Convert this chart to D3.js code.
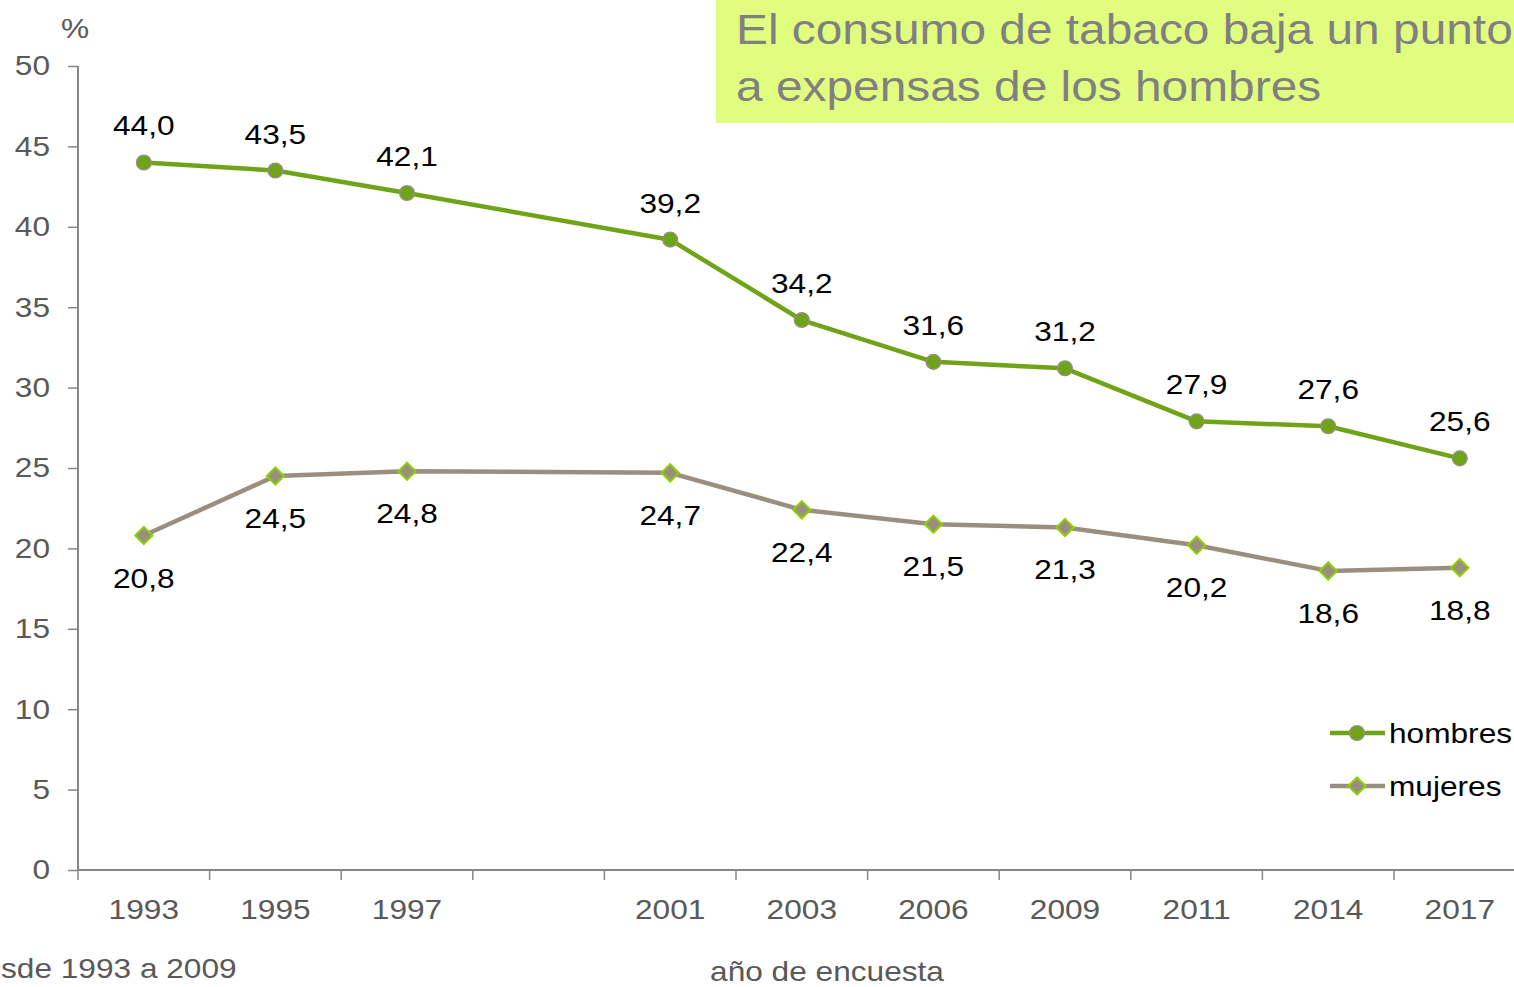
<!DOCTYPE html>
<html><head><meta charset="utf-8">
<script src="https://cdn.jsdelivr.net/npm/d3@7"></script>
<style>
html,body{margin:0;padding:0;background:#fff;overflow:hidden;}
svg{display:block;font-family:"Liberation Sans",Arial,sans-serif;}
</style></head>
<body>
<svg id="c" width="1514" height="987"></svg>
<script>
const categories = ["1993","1995","1997","","2001","2003","2006","2009","2011","2014","2017"];
const hombres = [44.0,43.5,42.1,null,39.2,34.2,31.6,31.2,27.9,27.6,25.6];
const mujeres = [20.8,24.5,24.8,null,24.7,22.4,21.5,21.3,20.2,18.6,18.8];
const yTicks = [0,5,10,15,20,25,30,35,40,45,50];
const titleLines = ["El consumo de tabaco baja un punto","a expensas de los hombres"];

const SX = 1.13;
const svg = d3.select("#c");
const x = d3.scaleBand().domain(categories.map((d,i)=>i)).range([78, 78+11*131.6]).paddingInner(0).paddingOuter(0);
const y = d3.scaleLinear().domain([0,50]).range([870,66]);
const cx = i => x(i) + x.bandwidth()/2;
const fmt = v => v.toFixed(1).replace(".", ",");
// place a text at (px,py) with horizontal stretch like the reference
const place = (sel, fx, fy, sx=SX) => sel.attr("x",0).attr("y",0)
  .attr("transform",(d,i)=>`translate(${fx(d,i)},${fy(d,i)}) scale(${sx},1)`);

// title box
svg.append("rect").attr("x",716).attr("y",0).attr("width",820).attr("height",123).attr("fill","#e1fd80");
svg.append("g").selectAll("text").data(titleLines).join("text")
  .call(place, ()=>736, (d,i)=>44+i*57, 1.113)
  .attr("font-size",43).attr("fill","#808080").text(d=>d);

// y axis
const yAxis = svg.append("g").attr("transform","translate(78,0)")
  .call(d3.axisLeft(y).tickValues(yTicks).tickSize(10).tickPadding(18));
yAxis.select(".domain").attr("stroke","#868686").attr("stroke-width",2).attr("d","M0,66V870");
yAxis.selectAll(".tick line").attr("stroke","#868686").attr("stroke-width",1.5);
yAxis.selectAll(".tick text").attr("font-size",28).attr("fill","#595959")
  .attr("font-family","Liberation Sans, Arial, sans-serif")
  .attr("x",null).attr("transform",`translate(-28,0) scale(${SX},1)`);

// x axis
const xAxis = svg.append("g").attr("transform","translate(0,870)");
xAxis.append("line").attr("x1",78).attr("x2",1530).attr("y1",0).attr("y2",0).attr("stroke","#868686").attr("stroke-width",2);
xAxis.selectAll("line.t").data(d3.range(0,12)).join("line").attr("class","t")
  .attr("x1",i=>78+i*x.step()).attr("x2",i=>78+i*x.step()).attr("y1",0).attr("y2",10)
  .attr("stroke","#868686").attr("stroke-width",1.5);
xAxis.selectAll("text").data(categories).join("text")
  .call(place,(d,i)=>cx(i),()=>49)
  .attr("text-anchor","middle").attr("font-size",28).attr("fill","#595959").text(d=>d);

// unit label
svg.append("text").datum("%").call(place,()=>75,()=>38).attr("text-anchor","middle").attr("font-size",28).attr("fill","#595959").text("%");
// axis title
svg.append("text").datum(0).call(place,()=>827,()=>981).attr("text-anchor","middle").attr("font-size",28).attr("fill","#595959").text("año de encuesta");
svg.append("text").datum(0).call(place,()=>1,()=>978).attr("font-size",28).attr("fill","#595959").text("sde 1993 a 2009");

// lines
const line = d3.line().x(d=>cx(d.i)).y(d=>y(d.v));
const hData = hombres.map((v,i)=>({v,i})).filter(d=>d.v!=null);
const mData = mujeres.map((v,i)=>({v,i})).filter(d=>d.v!=null);
svg.append("path").datum(mData).attr("d",line).attr("fill","none").attr("stroke","#9a8f7f").attr("stroke-width",4.5).attr("stroke-linejoin","round");
svg.append("path").datum(hData).attr("d",line).attr("fill","none").attr("stroke","#6fa318").attr("stroke-width",4.5).attr("stroke-linejoin","round");

const diamondPath = d3.symbol().type(d3.symbolSquare).size(150);
svg.append("g").selectAll("path").data(mData).join("path")
  .attr("d", diamondPath)
  .attr("transform",d=>`translate(${cx(d.i)},${y(d.v)}) rotate(45)`)
  .attr("fill","#9a8f7f").attr("stroke","#8fd100").attr("stroke-width",2);
svg.append("g").selectAll("circle").data(hData).join("circle")
  .attr("cx",d=>cx(d.i)).attr("cy",d=>y(d.v)).attr("r",7.3)
  .attr("fill","#6fa318").attr("stroke","#8f9279").attr("stroke-width",1.5);

// labels
svg.append("g").selectAll("text").data(hData).join("text")
  .call(place,d=>cx(d.i),d=>y(d.v)-27)
  .attr("text-anchor","middle").attr("font-size",28).attr("fill","#000").text(d=>fmt(d.v));
svg.append("g").selectAll("text").data(mData).join("text")
  .call(place,d=>cx(d.i),d=>y(d.v)+52)
  .attr("text-anchor","middle").attr("font-size",28).attr("fill","#000").text(d=>fmt(d.v));

// legend
const legend = [{name:"hombres",type:"c",color:"#6fa318"},{name:"mujeres",type:"d",color:"#9a8f7f"}];
const lg = svg.append("g").selectAll("g").data(legend).join("g").attr("transform",(d,i)=>`translate(0,${733+i*53})`);
lg.append("line").attr("x1",1330).attr("x2",1385).attr("y1",0).attr("y2",0).attr("stroke",d=>d.color).attr("stroke-width",4.5);
lg.filter(d=>d.type==="c").append("circle").attr("cx",1357).attr("cy",0).attr("r",7.3).attr("fill","#6fa318").attr("stroke","#8f9279").attr("stroke-width",1.5);
lg.filter(d=>d.type==="d").append("path").attr("d", diamondPath)
  .attr("transform","translate(1357,0) rotate(45)").attr("fill","#9a8f7f").attr("stroke","#8fd100").attr("stroke-width",2);
lg.append("text").call(place,()=>1389,()=>10).attr("font-size",28).attr("fill","#000").text(d=>d.name);
</script>
</body></html>
